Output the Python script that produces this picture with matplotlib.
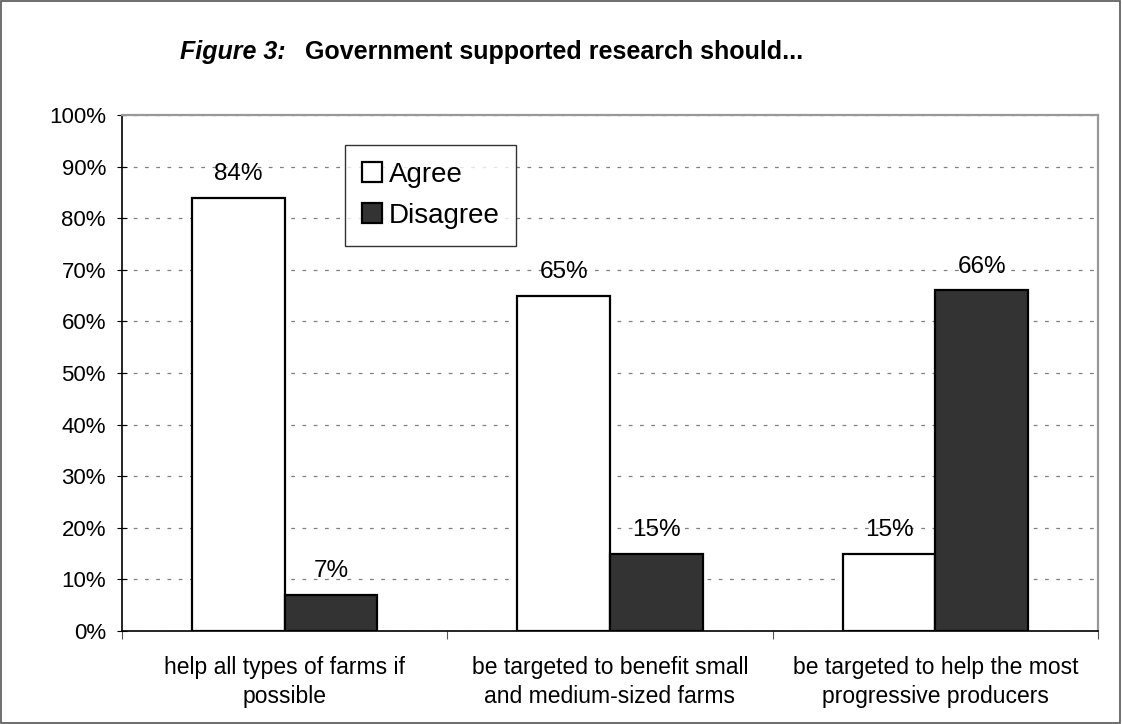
import numpy as np
import matplotlib.pyplot as plt
from matplotlib.patches import Rectangle

plt.rcParams['font.family'] = ['Liberation Sans', 'DejaVu Sans']

# datos
categorias = ['help all types of farms if\npossible',
              'be targeted to benefit small\nand medium-sized farms',
              'be targeted to help the most\nprogressive producers']
agree = [84, 65, 15]
disagree = [7, 15, 66]

fig = plt.figure(figsize=(11.22, 7.24), dpi=100)
ax = fig.add_axes([0.1087, 0.1285, 0.8699, 0.7127])

x = np.arange(len(categorias))
w = 0.285
b1 = ax.bar(x - w / 2, agree, w, color='white', edgecolor='black', linewidth=1.6, label='Agree', zorder=3)
b2 = ax.bar(x + w / 2, disagree, w, color='#333333', edgecolor='black', linewidth=1.6, label='Disagree', zorder=3)

for rects, vals in ((b1, agree), (b2, disagree)):
    for r, v in zip(rects, vals):
        ax.annotate(f'{v}%', (r.get_x() + r.get_width() / 2, v), xytext=(0, 9),
                    textcoords='offset points', ha='center', va='bottom', fontsize=17.5, zorder=4)

ax.set_xlim(-0.5, 2.5)
ax.set_ylim(0, 100)
ax.set_yticks(range(0, 101, 10))
ax.set_yticklabels([f'{t}%' for t in range(0, 101, 10)], fontsize=16)
ax.set_xticks([-0.5, 0.5, 1.5, 2.5])
ax.set_xticklabels([])
ax.set_xticks(x, minor=True)
ax.set_xticklabels(categorias, minor=True, fontsize=16.5, linespacing=1.35)
ax.tick_params(axis='x', which='minor', length=0, pad=18)
ax.tick_params(axis='x', which='major', length=6, direction='out', color='#555555')
ax.tick_params(axis='y', length=7, direction='inout', pad=8)

ax.yaxis.grid(True, linestyle=(0, (3, 6)), color='#808080', linewidth=0.9, zorder=0)
ax.spines['top'].set_color('#999999')
ax.spines['right'].set_color('#999999')
ax.spines['top'].set_linewidth(1.6)
ax.spines['right'].set_linewidth(1.6)
ax.spines['left'].set_linewidth(1.2)
ax.spines['bottom'].set_linewidth(1.2)

leg = ax.legend(loc='upper left', bbox_to_anchor=(0.229, 0.942), borderaxespad=0, fontsize=20,
                frameon=True, fancybox=False, edgecolor='black', handlelength=0.7, handleheight=0.7,
                handletextpad=0.25, borderpad=0.6, labelspacing=0.55)
leg.get_frame().set_linewidth(1.0)
leg.set_zorder(5)

fig.text(0.1604, 0.918, 'Figure 3:', fontsize=18, fontweight='bold', style='italic', va='baseline')
fig.text(0.2718, 0.918, 'Government supported research should...', fontsize=18, fontweight='bold', va='baseline')

fig.patches.append(Rectangle((0.001, 0.001), 0.997, 0.997, transform=fig.transFigure,
                            fill=False, edgecolor='#555555', linewidth=1.2))

fig.savefig('out.png', dpi=100)
